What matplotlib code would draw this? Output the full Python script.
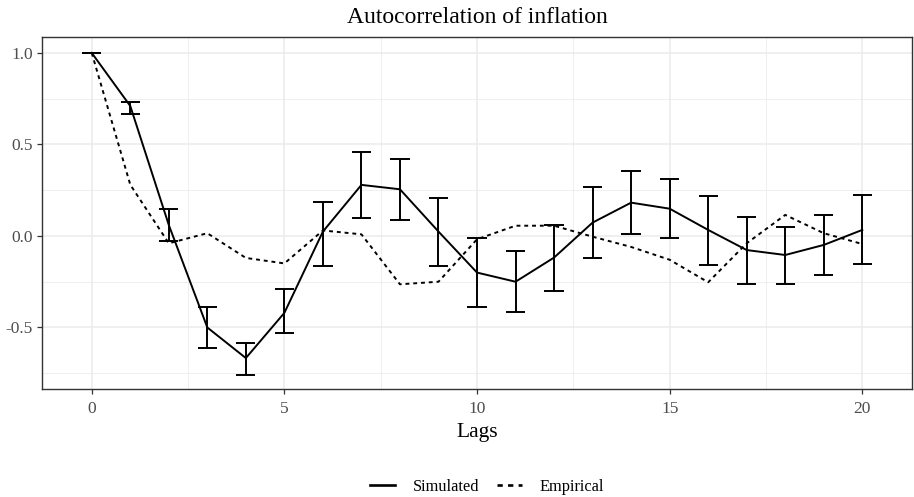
import numpy as np
import matplotlib.pyplot as plt
from matplotlib.ticker import MultipleLocator

lags = list(range(21))

# simulated autocorrelation with error bars
sim = [1.0, 0.71, 0.06, -0.50, -0.667, -0.42, 0.024, 0.279, 0.255, 0.024, -0.20,
       -0.25, -0.118, 0.073, 0.182, 0.149, 0.033, -0.077, -0.104, -0.049, 0.033]
sim_hi = [1.0, 0.734, 0.148, -0.39, -0.585, -0.29, 0.186, 0.457, 0.42, 0.21, -0.013,
          -0.084, 0.062, 0.266, 0.355, 0.313, 0.217, 0.105, 0.051, 0.115, 0.224]
sim_lo = [1.0, 0.668, -0.027, -0.61, -0.76, -0.53, -0.162, 0.10, 0.087, -0.162, -0.386,
          -0.417, -0.30, -0.122, 0.009, -0.013, -0.158, -0.264, -0.262, -0.211, -0.155]

# empirical autocorrelation
emp = [1.0, 0.28, -0.04, 0.015, -0.12, -0.15, 0.03, 0.009, -0.264, -0.25, -0.018,
       0.056, 0.056, -0.004, -0.06, -0.13, -0.253, -0.04, 0.115, 0.015, -0.044]

plt.rcParams['font.family'] = ['Liberation Serif', 'DejaVu Serif']

fig = plt.figure(figsize=(9.14, 4.97), dpi=100)
ax = fig.add_axes([0.046, 0.2173, 0.9518, 0.7083])

# grid (theme_bw style)
ax.xaxis.set_major_locator(MultipleLocator(5))
ax.xaxis.set_minor_locator(MultipleLocator(2.5))
ax.yaxis.set_major_locator(MultipleLocator(0.5))
ax.yaxis.set_minor_locator(MultipleLocator(0.25))
ax.grid(True, which='major', color='#EBEBEB', lw=1.1, zorder=0)
ax.grid(True, which='minor', color='#EBEBEB', lw=0.55, zorder=0)
ax.set_axisbelow(True)

ax.plot(lags, sim, color='black', lw=1.4, label='Simulated', zorder=3)
ax.plot(lags, emp, color='black', lw=1.4, linestyle=(0, (2, 2)), label='Empirical', zorder=3)

lags_a = np.array(lags)
ax.vlines(lags_a, sim_lo, sim_hi, color='black', lw=1.4, zorder=3)
ax.hlines(sim_lo, lags_a - 0.25, lags_a + 0.25, color='black', lw=1.4, zorder=3)
ax.hlines(sim_hi, lags_a - 0.25, lags_a + 0.25, color='black', lw=1.4, zorder=3)

ax.set_xlim(-1.29, 21.29)
ax.set_ylim(-0.836, 1.087)
ax.set_yticks([-0.5, 0.0, 0.5, 1.0])
ax.set_yticklabels(['-0.5', '0.0', '0.5', '1.0'])

for s in ax.spines.values():
    s.set_color('#333333')
    s.set_linewidth(1.0)
ax.tick_params(which='major', length=3.8, color='#333333', labelcolor='#4D4D4D',
               labelsize=12.5, width=0.9, pad=3)
ax.tick_params(axis='x', pad=5)
ax.tick_params(which='minor', length=0)

ax.set_title('Autocorrelation of inflation', fontsize=17, pad=10)
ax.set_xlabel('Lags', fontsize=15.5, labelpad=4)

leg = fig.legend(loc='center', bbox_to_anchor=(0.533, 0.02), ncol=2, frameon=False,
                 fontsize=11.8, handlelength=1.5, columnspacing=1.1, handletextpad=1.1)
for h in leg.get_lines():
    h.set_linewidth(1.9)

fig.savefig('out.png', dpi=100)
